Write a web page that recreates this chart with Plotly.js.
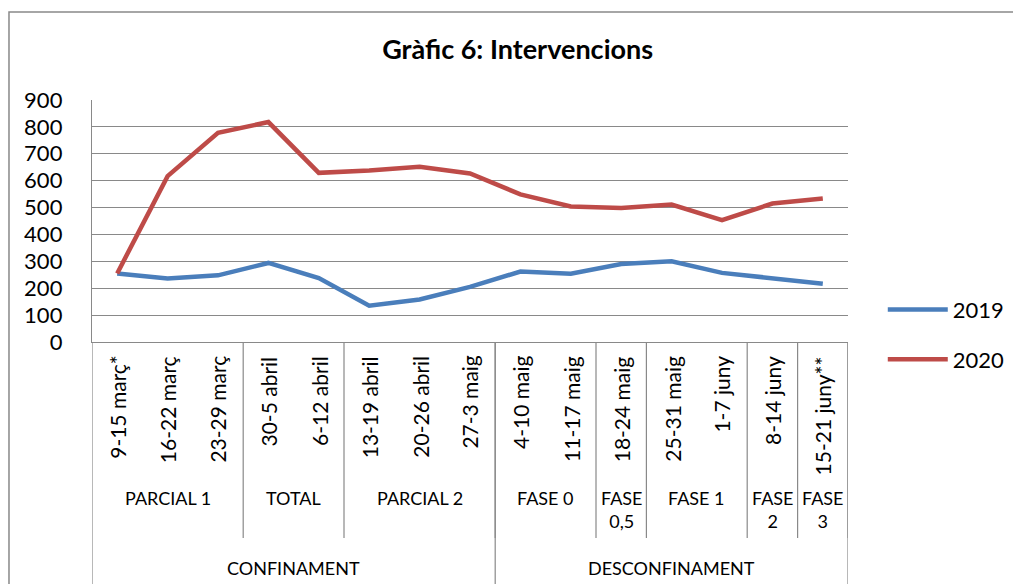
<!DOCTYPE html>
<html>
<head>
<meta charset="utf-8">
<script src="https://cdn.plot.ly/plotly-3.0.1.min.js"></script>
<style>html,body{margin:0;padding:0;background:#fff;}#chart{width:1013px;height:584px;}</style>
</head>
<body>
<div id="chart"></div>
<script>
// ---- data ----
var weeks = ['9-15 març*','16-22 març','23-29 març','30-5 abril','6-12 abril','13-19 abril','20-26 abril','27-3 maig','4-10 maig','11-17 maig','18-24 maig','25-31 maig','1-7 juny','8-14 juny','15-21 juny**'];
var v2019 = [255,236,248,294,238,135,158,205,262,254,290,300,257,235,217];
var v2020 = [255,617,778,818,629,638,652,627,549,504,498,511,453,515,534];
var phaseNames = ['PARCIAL 1','TOTAL','PARCIAL 2','FASE 0','FASE<br>0,5','FASE 1','FASE<br>2','FASE<br>3'];
var phaseSizes = [3,2,3,2,1,2,1,1];
var groupNames = ['CONFINAMENT','DESCONFINAMENT'];
var groupSizes = [8,7];
var yTicks = [0,100,200,300,400,500,600,700,800,900];

// ---- build ----
var idx = weeks.map(function(_, i){ return i; });
var FONT = 'Lato, "Noto Sans", sans-serif';
var GRAY = '#898989';

var traces = [
  {x: idx, y: v2019, name: '2019', type: 'scatter', mode: 'lines', legendgroup: 'a',
   line: {color: '#4A7EBB', width: 4.5}},
  {x: idx, y: v2020, name: '2020', type: 'scatter', mode: 'lines', legendgroup: 'b',
   line: {color: '#BE4B48', width: 4.5}}
];

var shapes = [];
var annotations = [];

// outer chart border
shapes.push({type: 'rect', xref: 'paper', yref: 'paper', x0: -0.1098, x1: 1.5, y0: -1.5, y1: 1.3636,
  line: {color: GRAY, width: 1.5}, fillcolor: 'rgba(0,0,0,0)'});

// week labels (rotated)
weeks.forEach(function(w, i){
  annotations.push({x: i, y: -0.05, xref: 'x', yref: 'paper', text: w, textangle: -90,
    xanchor: 'center', yanchor: 'top', showarrow: false, font: {family: FONT, size: 21, color: '#000'}});
});

// phase labels + separators
var start = 0;
phaseSizes.forEach(function(n, k){
  var c = start + (n - 1) / 2;
  annotations.push({x: c, y: -0.59, xref: 'x', yref: 'paper', text: phaseNames[k],
    xanchor: 'center', yanchor: 'top', showarrow: false, align: 'center',
    font: {family: FONT, size: 18, color: '#000'}});
  var end = start + n;
  shapes.push({type: 'line', xref: 'x', yref: 'paper', x0: end - 0.5, x1: end - 0.5, y0: 0, y1: -0.81,
    line: {color: GRAY, width: 1.2}});
  start = end;
});

// group labels + separators
start = 0;
shapes.push({type: 'line', xref: 'x', yref: 'paper', x0: -0.5, x1: -0.5, y0: 0, y1: -1.0,
  line: {color: GRAY, width: 1.2}});
groupSizes.forEach(function(n, k){
  var c = start + (n - 1) / 2;
  annotations.push({x: c, y: -0.934, xref: 'x', yref: 'paper', text: groupNames[k],
    xanchor: 'center', yanchor: 'middle', showarrow: false,
    font: {family: FONT, size: 18, color: '#000'}});
  var end = start + n;
  shapes.push({type: 'line', xref: 'x', yref: 'paper', x0: end - 0.5, x1: end - 0.5, y0: 0, y1: -1.0,
    line: {color: GRAY, width: 1.2}});
  start = end;
});

var layout = {
  width: 1013, height: 584,
  margin: {l: 92, r: 165, t: 100, b: 242, pad: 0, autoexpand: false},
  paper_bgcolor: '#fff', plot_bgcolor: '#fff',
  font: {family: FONT, color: '#000'},
  title: {text: 'Gràfic 6: Intervencions', font: {family: FONT, size: 27, weight: 'bold', color: '#000'},
    x: 0.511, xanchor: 'center', xref: 'container', y: 0.916, yanchor: 'middle', yref: 'container'},
  showlegend: true,
  legend: {x: 1.046, xanchor: 'left', y: 0.22, yanchor: 'top', font: {family: FONT, size: 22, color: '#000'},
    itemwidth: 60, traceorder: 'grouped', tracegroupgap: 18, bgcolor: 'rgba(0,0,0,0)'},
  xaxis: {range: [-0.5, 14.5], showticklabels: false, showgrid: false, zeroline: false,
    showline: true, linecolor: GRAY, linewidth: 1.2, ticks: '', fixedrange: true},
  yaxis: {range: [0, 900], tickvals: yTicks, ticktext: yTicks.map(String), showgrid: true, gridcolor: GRAY, gridwidth: 1.2,
    zeroline: false, showline: true, linecolor: GRAY, linewidth: 1.2, ticks: '',
    ticklabelstandoff: 24, tickfont: {family: FONT, size: 22, color: '#000'}, fixedrange: true},
  shapes: shapes,
  annotations: annotations
};

Plotly.newPlot('chart', traces, layout, {displayModeBar: false, staticPlot: true});
</script>
</body>
</html>
